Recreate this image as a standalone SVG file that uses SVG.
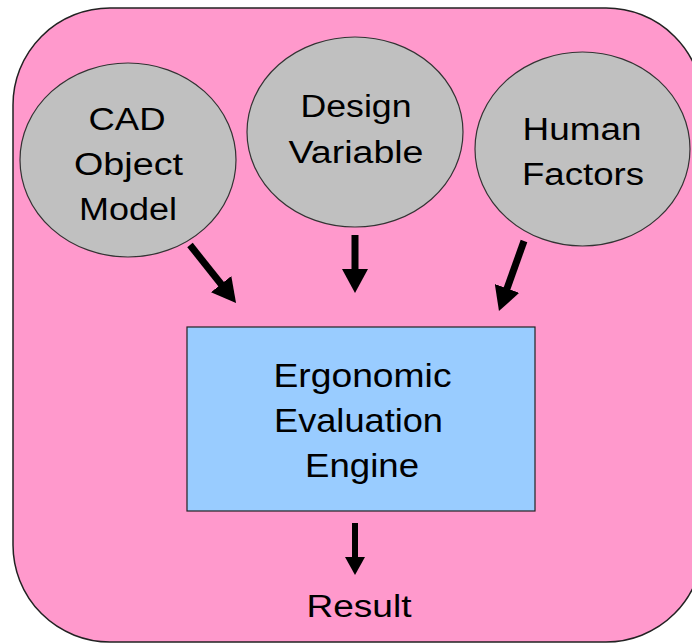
<svg xmlns="http://www.w3.org/2000/svg" width="692" height="644" viewBox="0 0 692 644">
  <style>
    .frame { fill: #ff99cc; stroke: #222; stroke-width: 1.5; }
    .input { fill: #c0c0c0; stroke: #333; stroke-width: 1.2; }
    .engine { fill: #99ccff; stroke: #222; stroke-width: 1.2; }
    text { font-family: "Liberation Sans", Arial, sans-serif; fill: #000; text-anchor: middle; }
    .lbl { font-size: 31px; }
    .elbl { font-size: 33px; }
    .arrow { stroke: #000; stroke-width: 7; fill: none; }
    .arrow-sm { stroke: #000; stroke-width: 6; fill: none; }
  </style>
  <defs>
    <marker id="head" markerUnits="userSpaceOnUse" markerWidth="25" markerHeight="26" refX="4" refY="13" orient="auto">
      <path d="M0,0 L24,13 L0,26 z" fill="#000"/>
    </marker>
    <marker id="head-sm" markerUnits="userSpaceOnUse" markerWidth="19" markerHeight="20" refX="3" refY="10" orient="auto">
      <path d="M0,0 L18,10 L0,20 z" fill="#000"/>
    </marker>
  </defs>

  <!-- outer frame -->
  <rect class="frame" x="13" y="8" width="690" height="634" rx="97" ry="97"/>

  <g id="cad-object-model">
    <ellipse class="input" cx="128" cy="160" rx="108" ry="97"/>
    <text class="lbl" x="127" y="130" textLength="77" lengthAdjust="spacingAndGlyphs">CAD</text>
    <text class="lbl" x="128.5" y="175" textLength="109" lengthAdjust="spacingAndGlyphs">Object</text>
    <text class="lbl" x="128" y="220" textLength="98" lengthAdjust="spacingAndGlyphs">Model</text>
  </g>

  <g id="design-variable">
    <ellipse class="input" cx="355" cy="132" rx="108" ry="95"/>
    <text class="lbl" x="356" y="117" textLength="111" lengthAdjust="spacingAndGlyphs">Design</text>
    <text class="lbl" x="356" y="163" textLength="135" lengthAdjust="spacingAndGlyphs">Variable</text>
  </g>

  <g id="human-factors">
    <ellipse class="input" cx="582.5" cy="149" rx="107.5" ry="97"/>
    <text class="lbl" x="582" y="140" textLength="119" lengthAdjust="spacingAndGlyphs">Human</text>
    <text class="lbl" x="583" y="185" textLength="122" lengthAdjust="spacingAndGlyphs">Factors</text>
  </g>

  <g id="evaluation-engine">
    <rect class="engine" x="187" y="327" width="348" height="184"/>
    <text class="elbl" x="362.5" y="387" textLength="178" lengthAdjust="spacingAndGlyphs">Ergonomic</text>
    <text class="elbl" x="358.5" y="432" textLength="169" lengthAdjust="spacingAndGlyphs">Evaluation</text>
    <text class="elbl" x="362" y="477" textLength="114" lengthAdjust="spacingAndGlyphs">Engine</text>
  </g>

  <g id="result">
    <text class="lbl" x="359" y="617" textLength="105" lengthAdjust="spacingAndGlyphs">Result</text>
  </g>

  <g id="connectors">
    <line class="arrow" x1="190" y1="245" x2="223.6" y2="287.3" marker-end="url(#head)"/>
    <line class="arrow" x1="355" y1="235" x2="355" y2="273" marker-end="url(#head)"/>
    <line class="arrow" x1="524" y1="241" x2="505.7" y2="292.2" marker-end="url(#head)"/>
    <line class="arrow-sm" x1="355" y1="523" x2="355" y2="560" marker-end="url(#head-sm)"/>
  </g>
</svg>
